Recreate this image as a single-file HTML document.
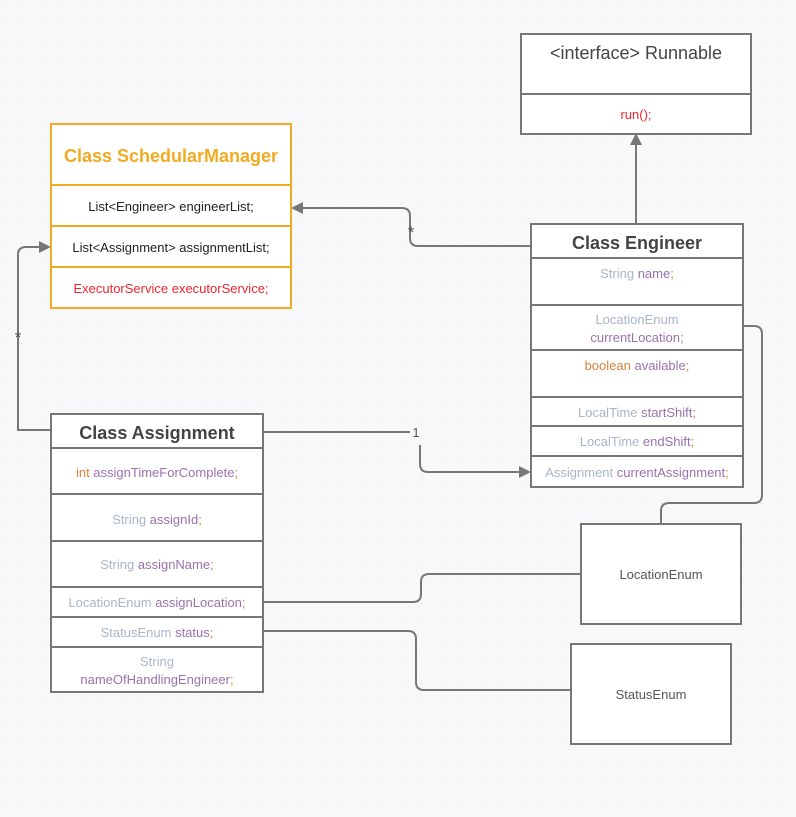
<!DOCTYPE html>
<html><head><meta charset="utf-8"><style>
html,body{margin:0;padding:0;background:#f8f8fa;}
svg{display:block;}
text{font-family:"Liberation Sans","DejaVu Sans",sans-serif;text-anchor:middle;}
.t{font-size:18px;fill:#444;font-weight:bold;}
.f{font-size:13px;}
.g{fill:#a9b6c8}.p{fill:#9a72ab}.o{fill:#d9823a}.r{fill:#f0252f}.k{fill:#222}
.b{fill:#fff;stroke:#777;stroke-width:2}
.l{stroke:#777;stroke-width:2;fill:none}
</style></head><body>
<svg width="796" height="817" viewBox="0 0 796 817" xmlns="http://www.w3.org/2000/svg">
<defs><pattern id="d" x="1" y="3" width="20" height="20" patternUnits="userSpaceOnUse"><circle cx="0" cy="0" r="1.2" fill="#d6d6d6"/></pattern></defs>
<rect width="796" height="817" fill="#f8f8fa"/>
<rect width="796" height="817" fill="url(#d)"/>

<!-- connectors -->
<path class="l" d="M636 224 V143"/><polygon points="636,133 630,145 642,145" fill="#777"/>
<path class="l" d="M531 246 H418 Q410 246 410 238 V216 Q410 208 402 208 H301"/><polygon points="291,208 303,202 303,214" fill="#777"/>
<text x="411" y="238" style="font-size:17px;fill:#555">*</text>
<path class="l" d="M51 430 H18 V255 Q18 247 26 247 H41"/><polygon points="51,247 39,241 39,253" fill="#777"/>
<text x="18" y="343" style="font-size:17px;fill:#555">*</text>
<path class="l" d="M263 432 H410"/><text x="416" y="437" style="font-size:13px;fill:#555">1</text>
<path class="l" d="M420 445 V464 Q420 472 428 472 H521"/><polygon points="531,472 519,466 519,478" fill="#777"/>
<path class="l" d="M743 326 H754 Q762 326 762 334 V495 Q762 503 754 503 H669 Q661 503 661 511 V524"/>
<path class="l" d="M263 602 H413 Q421 602 421 594 V582 Q421 574 429 574 H581"/>
<path class="l" d="M263 631 H408 Q416 631 416 639 V682 Q416 690 424 690 H571"/>

<!-- Runnable -->
<rect class="b" x="521" y="34" width="230" height="100"/>
<line class="l" x1="521" y1="94" x2="751" y2="94"/>
<text class="t" x="636" y="59" style="font-weight:normal;fill:#444">&lt;interface&gt; Runnable</text>
<text class="f r" x="636" y="119">run();</text>

<!-- Manager -->
<rect x="51" y="124" width="240" height="184" fill="#fff" stroke="#f2aa22" stroke-width="2"/>
<g stroke="#f2aa22" stroke-width="2"><line x1="51" y1="185" x2="291" y2="185"/><line x1="51" y1="226" x2="291" y2="226"/><line x1="51" y1="267" x2="291" y2="267"/></g>
<text x="171" y="162" style="font-size:18px;font-weight:bold;fill:#f2aa22">Class SchedularManager</text>
<text class="f k" x="171" y="211">List&lt;Engineer&gt; engineerList;</text>
<text class="f k" x="171" y="252">List&lt;Assignment&gt; assignmentList;</text>
<text class="f r" x="171" y="293">ExecutorService executorService;</text>

<!-- Engineer -->
<rect class="b" x="531" y="224" width="212" height="263"/>
<g class="l"><line x1="531" y1="258" x2="743" y2="258"/><line x1="531" y1="305" x2="743" y2="305"/><line x1="531" y1="350" x2="743" y2="350"/><line x1="531" y1="397" x2="743" y2="397"/><line x1="531" y1="426" x2="743" y2="426"/><line x1="531" y1="456" x2="743" y2="456"/></g>
<text class="t" x="637" y="249">Class Engineer</text>
<text class="f" x="637" y="278"><tspan class="g">String </tspan><tspan class="p">name</tspan><tspan class="o">;</tspan></text>
<text class="f g" x="637" y="324">LocationEnum</text>
<text class="f" x="637" y="342"><tspan class="p">currentLocation</tspan><tspan class="o">;</tspan></text>
<text class="f" x="637" y="370"><tspan class="o">boolean </tspan><tspan class="p">available</tspan><tspan class="o">;</tspan></text>
<text class="f" x="637" y="417"><tspan class="g">LocalTime </tspan><tspan class="p">startShift</tspan><tspan class="o">;</tspan></text>
<text class="f" x="637" y="446"><tspan class="g">LocalTime </tspan><tspan class="p">endShift</tspan><tspan class="o">;</tspan></text>
<text class="f" x="637" y="477"><tspan class="g">Assignment </tspan><tspan class="p">currentAssignment</tspan><tspan class="o">;</tspan></text>

<!-- Assignment -->
<rect class="b" x="51" y="414" width="212" height="278"/>
<g class="l"><line x1="51" y1="448" x2="263" y2="448"/><line x1="51" y1="494" x2="263" y2="494"/><line x1="51" y1="541" x2="263" y2="541"/><line x1="51" y1="587" x2="263" y2="587"/><line x1="51" y1="617" x2="263" y2="617"/><line x1="51" y1="647" x2="263" y2="647"/></g>
<text class="t" x="157" y="439">Class Assignment</text>
<text class="f" x="157" y="477"><tspan class="o">int </tspan><tspan class="p">assignTimeForComplete</tspan><tspan class="o">;</tspan></text>
<text class="f" x="157" y="524"><tspan class="g">String </tspan><tspan class="p">assignId</tspan><tspan class="o">;</tspan></text>
<text class="f" x="157" y="569"><tspan class="g">String </tspan><tspan class="p">assignName</tspan><tspan class="o">;</tspan></text>
<text class="f" x="157" y="607"><tspan class="g">LocationEnum </tspan><tspan class="p">assignLocation</tspan><tspan class="o">;</tspan></text>
<text class="f" x="157" y="637"><tspan class="g">StatusEnum </tspan><tspan class="p">status</tspan><tspan class="o">;</tspan></text>
<text class="f g" x="157" y="666">String</text>
<text class="f" x="157" y="684"><tspan class="p">nameOfHandlingEngineer</tspan><tspan class="o">;</tspan></text>

<!-- Enums -->
<rect class="b" x="581" y="524" width="160" height="100"/>
<text class="f" x="661" y="579" style="fill:#555">LocationEnum</text>
<rect class="b" x="571" y="644" width="160" height="100"/>
<text class="f" x="651" y="699" style="fill:#555">StatusEnum</text>
</svg>
</body></html>
